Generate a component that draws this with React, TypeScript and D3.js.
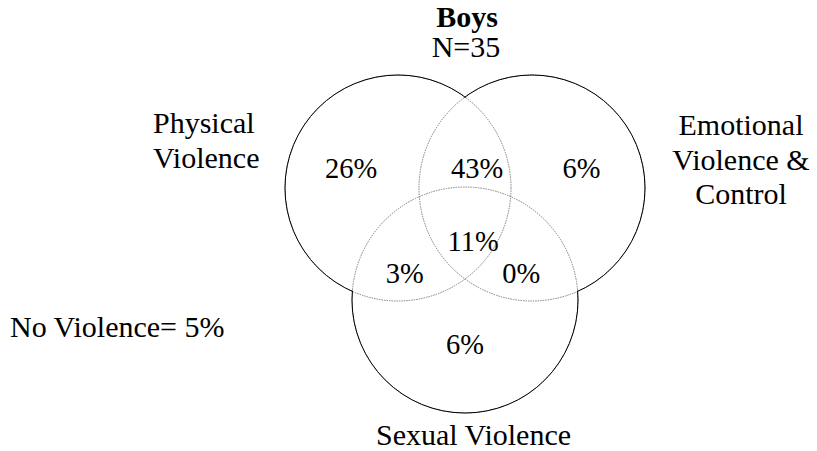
import { useEffect, useRef } from "react";
import * as d3 from "d3";

// sets of the diagram
const setNames = ["Physical Violence", "Emotional Violence & Control", "Sexual Violence"];
const setLabelLines = [["Physical", "Violence"], ["Emotional", "Violence &", "Control"], ["Sexual Violence"]];

// region shares (percent)
const regionKeys = ["P", "E", "S", "PE", "PS", "ES", "PES"];
const regionValues = [26, 6, 6, 43, 3, 0, 11];
const noViolence = 5;
const title = "Boys";
const sampleSize = 35;

const App = () => {
    const svgRef = useRef<SVGSVGElement | null>(null);

    useEffect(() => {
        const width = 817;
        const height = 451;
        const r = 113;
        const font = "\"Liberation Serif\", \"Times New Roman\", serif";
        const fsLabel = 30;
        const fsValue = 28.5;

        const svg = d3.select(svgRef.current)
            .attr("width", width)
            .attr("height", height);
        svg.selectAll("*").remove();

        // layout of the three circles in unit space, mapped with linear scales
        const x = d3.scaleLinear().domain([0, 1]).range([398, 532]);
        const y = d3.scaleLinear().domain([0, 1]).range([188, 300]);
        const circles = [
            { name: setNames[0], cx: x(0), cy: y(0) },
            { name: setNames[1], cx: x(1), cy: y(0) },
            { name: setNames[2], cx: x(0.5), cy: y(1) },
        ];

        // masks: keep only the part of each outline lying outside the other circles
        const defs = svg.append("defs");
        circles.forEach((c, i) => {
            const m = defs.append("mask").attr("id", `outside-${i}`)
                .attr("maskUnits", "userSpaceOnUse")
                .attr("x", 0).attr("y", 0).attr("width", width).attr("height", height);
            m.append("rect").attr("width", width).attr("height", height).attr("fill", "white");
            circles.forEach((o, j) => {
                if (j !== i) m.append("circle").attr("cx", o.cx).attr("cy", o.cy).attr("r", r - 0.5).attr("fill", "black");
            });
        });

        const g = svg.append("g");
        // faint inner arcs
        g.selectAll(".inner")
            .data(circles)
            .enter()
            .append("circle")
            .attr("class", "inner")
            .attr("cx", d => d.cx)
            .attr("cy", d => d.cy)
            .attr("r", r)
            .attr("fill", "none")
            .attr("stroke", "#808080")
            .attr("stroke-width", 1)
            .attr("stroke-dasharray", "1.5,1");
        // solid outer outline
        g.selectAll(".outer")
            .data(circles)
            .enter()
            .append("circle")
            .attr("class", "outer")
            .attr("cx", d => d.cx)
            .attr("cy", d => d.cy)
            .attr("r", r)
            .attr("fill", "none")
            .attr("stroke", "#000")
            .attr("stroke-width", 1)
            .attr("mask", (_d, i) => `url(#outside-${i})`);

        // region label anchors (unit space)
        const regionPos: Record<string, [number, number]> = {
            P: [-0.35, -0.09], E: [1.37, -0.09], S: [0.5, 1.48],
            PE: [0.59, -0.09], PS: [0.05, 0.85], ES: [0.92, 0.85], PES: [0.56, 0.56],
        };
        const text = svg.append("g")
            .attr("fill", "#000")
            .attr("font-family", font);

        text.selectAll(".region")
            .data(regionKeys.map((k, i) => ({ k, v: regionValues[i] })))
            .enter()
            .append("text")
            .attr("class", "region")
            .attr("font-size", fsValue)
            .attr("x", d => x(regionPos[d.k][0]))
            .attr("y", d => y(regionPos[d.k][1]))
            .attr("text-anchor", "middle")
            .text(d => `${d.v}%`);

        // set labels
        const labelAnchor = [
            { x: 153, y: 133, anchor: "start" },
            { x: 741, y: 135, anchor: "middle" },
            { x: 473.5, y: 445, anchor: "middle" },
        ];
        setLabelLines.forEach((lines, i) => {
            const t = text.append("text")
                .attr("font-size", fsLabel)
                .attr("x", labelAnchor[i].x)
                .attr("y", labelAnchor[i].y)
                .attr("text-anchor", labelAnchor[i].anchor);
            lines.forEach((line, j) => {
                t.append("tspan")
                    .attr("x", labelAnchor[i].x)
                    .attr("dy", j === 0 ? 0 : 34.5)
                    .text(line);
            });
        });

        // title
        text.append("text")
            .attr("font-size", fsLabel)
            .attr("x", 467).attr("y", 27)
            .attr("text-anchor", "middle")
            .attr("font-weight", "bold")
            .text(title);
        text.append("text")
            .attr("font-size", fsLabel)
            .attr("x", 466).attr("y", 57)
            .attr("text-anchor", "middle")
            .text(`N=${sampleSize}`);

        text.append("text")
            .attr("font-size", fsLabel)
            .attr("x", 10).attr("y", 337)
            .text(`No Violence= ${noViolence}%`);
    }, []);

    return <svg ref={svgRef} style={{ position: "absolute", left: 0, top: 0, background: "#fff" }}></svg>;
};

export default App;
